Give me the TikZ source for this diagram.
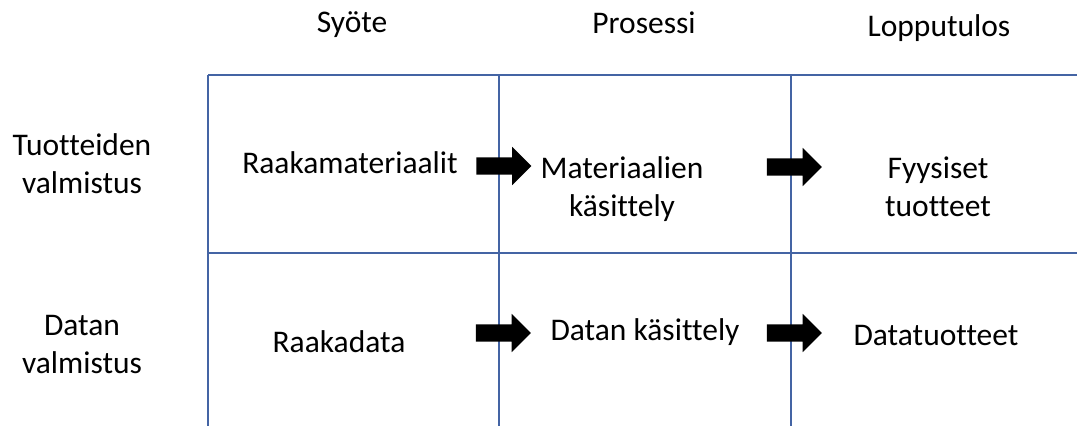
\documentclass[tikz,border=0pt]{standalone}
\usepackage{fontspec}
\setmainfont{Carlito}[Ligatures=NoCommon]
\usetikzlibrary{shapes.arrows}
\definecolor{gridblue}{RGB}{68,100,164}
\tikzset{
  lbl/.style={anchor=base, inner sep=0pt, font=\fontsize{31.5}{38}\selectfont, align=center},
  gridline/.style={draw=gridblue, line width=1.5pt},
  fatarrow/.style={single arrow, fill=black, draw=none, inner xsep=0pt, inner ysep=8.5pt,
    minimum height=55pt, single arrow head extend=10.5pt, single arrow tip angle=90},
}
\begin{document}
\begin{tikzpicture}[x=1pt,y=-1pt]
\useasboundingbox (0,0) rectangle (1077,426);
% grid
\coordinate (tl) at (208,75);
\coordinate (tr) at (1077,75);
\coordinate (ml) at (208,253);
\coordinate (mr) at (1077,253);
\coordinate (v1t) at (208,75);  \coordinate (v1b) at (208,426);
\coordinate (v2t) at (499,75);  \coordinate (v2b) at (499,426);
\coordinate (v3t) at (791,75);  \coordinate (v3b) at (791,426);
\draw[gridline] (tl) -- (tr);
\draw[gridline] (ml) -- (mr);
\draw[gridline] (v1t) -- (v1b);
\draw[gridline] (v2t) -- (v2b);
\draw[gridline] (v3t) -- (v3b);
% headers
\node[lbl] (h1) at (352,32) {Syöte};
\node[lbl] (h2) at (644,33) {Prosessi};
\node[lbl] (h3) at (939,36) {Lopputulos};
% row labels (base anchor = last line baseline)
\node[lbl] (r1) at (82,193) {Tuotteiden\\valmistus};
\node[lbl] (r2) at (82,373) {Datan\\valmistus};
% cells
\node[lbl] (c11) at (350,173) {Raakamateriaalit};
\node[lbl] (c12) at (622,216) {Materiaalien\\käsittely};
\node[lbl] (c13) at (938,216) {Fyysiset\\tuotteet};
\node[lbl] (c21) at (339,352) {Raakadata};
\node[lbl] (c22) at (645,340) {Datan käsittely};
\node[lbl] (c23) at (936,345) {Datatuotteet};
% arrows
\node[fatarrow] (a11) at (499.5,166) {};
\node[fatarrow] (a12) at (790,167) {};
\node[fatarrow] (a21) at (499,333) {};
\node[fatarrow] (a22) at (790,333) {};
\end{tikzpicture}
\end{document}
